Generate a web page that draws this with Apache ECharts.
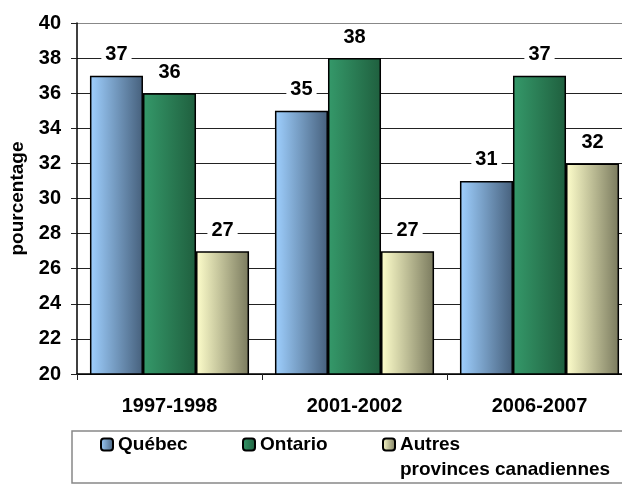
<!DOCTYPE html>
<html>
<head>
<meta charset="utf-8"/>
<title></title>
<script src="https://cdn.jsdelivr.net/npm/echarts@6/dist/echarts.min.js"></script>
</head>
<body style="margin:0;background:#fff;">
<div id="chart" style="width:622px;height:485px;"></div>
<script type="text/javascript">

var categories = ['1997-1998', '2001-2002', '2006-2007'];
var quebec = [37, 35, 31];
var ontario = [36, 38, 37];
var autres = [27, 27, 32];
var seriesNames = ['Québec', 'Ontario', 'Autres provinces canadiennes'];

function grad(c0, c1) {
    return new echarts.graphic.LinearGradient(0, 0, 1, 0, [
        { offset: 0, color: c0 },
        { offset: 1, color: c1 }
    ]);
}

var fam = 'Liberation Sans, Arial, sans-serif';

function mkSeries(name, data, c0, c1) {
    return {
        name: name,
        type: 'bar',
        data: data,
        barCategoryGap: '14%',
        barGap: '0%',
        itemStyle: { color: grad(c0, c1), borderColor: '#000', borderWidth: 1.5 },
        label: {
            show: true,
            position: 'top',
            distance: 11,
            fontFamily: fam,
            fontWeight: 'bold',
            fontSize: 20,
            color: '#000',
            backgroundColor: '#fff',
            padding: [0, 4, 0, 4]
        }
    };
}

// gridline colours: lines at 20..40, top one grey
var splitColors = ['#222', '#222', '#222', '#222', '#222', '#222', '#222', '#222', '#222', '#222', '#888'];

function legendFor(name, left, top, fmt) {
    return {
        data: [name],
        left: left,
        top: top,
        padding: 0,
        itemWidth: 12,
        itemHeight: 12,
        itemGap: 7,
        selectedMode: false,
        formatter: fmt,
        textStyle: { fontFamily: fam, fontWeight: 'bold', fontSize: 19, color: '#000', lineHeight: 25 }
    };
}

var chart = echarts.init(document.getElementById('chart'));
var option = {
    animation: false,
    backgroundColor: '#fff',
    grid: { left: 77, top: 23, width: 555, bottom: 111, outerBoundsMode: 'none', containLabel: false },
    graphic: [{
        type: 'rect',
        shape: { x: 72, y: 431, width: 570, height: 52 },
        style: { fill: 'none', stroke: '#888', lineWidth: 1.5 },
        z: -1
    }],
    legend: [
        legendFor(seriesNames[0], 100, 432, function (n) { return n; }),
        legendFor(seriesNames[1], 242, 432, function (n) { return n; }),
        legendFor(seriesNames[2], 382, 407, function (n) { return ' \nAutres\nprovinces canadiennes'; })
    ],
    xAxis: {
        type: 'category',
        data: categories,
        axisLine: { lineStyle: { color: '#000', width: 1.5 } },
        axisTick: { show: true, length: 6, lineStyle: { color: '#222' } },
        axisLabel: { fontFamily: fam, fontWeight: 'bold', fontSize: 20, color: '#000', margin: 22 }
    },
    yAxis: {
        type: 'value',
        min: 20,
        max: 40,
        interval: 2,
        name: 'pourcentage',
        nameLocation: 'middle',
        nameRotate: 90,
        nameGap: 50,
        nameTextStyle: { fontFamily: fam, fontWeight: 'bold', fontSize: 19, color: '#000' },
        axisLine: { show: true, lineStyle: { color: '#000', width: 1.5 } },
        axisTick: { show: true, length: 6, lineStyle: { color: '#222' } },
        axisLabel: { fontFamily: fam, fontWeight: 'bold', fontSize: 20, color: '#000', margin: 16 },
        splitLine: { show: true, lineStyle: { color: splitColors, width: 1.2 } }
    },
    series: [
        mkSeries(seriesNames[0], quebec, '#9fd0ff', '#46607c'),
        mkSeries(seriesNames[1], ontario, '#35996a', '#1f5f3e'),
        mkSeries(seriesNames[2], autres, '#ffffcc', '#7a7a5e')
    ]
};
chart.setOption(option);

</script>
</body>
</html>
